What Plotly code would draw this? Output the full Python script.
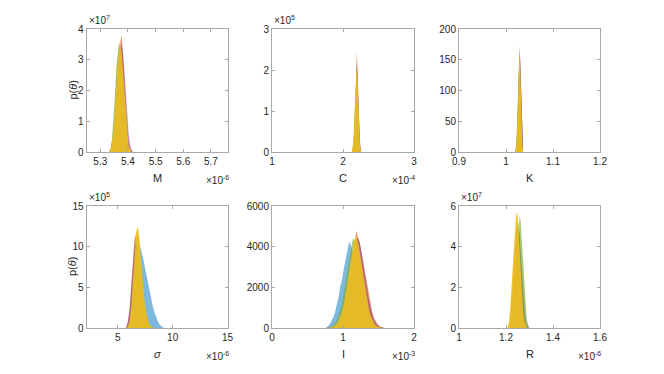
import numpy as np
import plotly.graph_objects as go

# MATLAB-like colour order, drawn with face alpha
COLORS = {
    'blue': (0, 114, 189),
    'orange': (217, 83, 25),
    'purple': (126, 47, 142),
    'green': (119, 172, 48),
    'yellow': (237, 190, 35),
}
ALPHA = {'blue': 0.5, 'orange': 0.6, 'purple': 0.5, 'green': 0.6, 'yellow': 0.92}
SERIES = ['blue', 'orange', 'purple', 'green', 'yellow']

# ---- M  (x in 1e-6, y in 1e7)
M_start, M_width = 5.330, 0.005
M_blue = [0.02, 0.1, 0.35, 0.8, 1.5, 2.3, 3.0, 3.4, 3.3, 2.8, 2.0, 1.2, 0.6, 0.25, 0.08, 0.02, 0, 0]
M_orange = [0, 0.03, 0.15, 0.4, 0.9, 1.6, 2.4, 3.1, 3.6, 3.8, 3.2, 2.3, 1.4, 0.7, 0.3, 0.1, 0.02, 0]
M_purple = [0, 0.02, 0.08, 0.25, 0.6, 1.2, 2.0, 2.8, 3.3, 3.5, 3.2, 2.6, 1.8, 1.1, 0.6, 0.25, 0.08, 0.02]
M_green = [0.03, 0.15, 0.45, 1.0, 1.8, 2.7, 3.3, 3.6, 3.4, 2.7, 1.8, 1.0, 0.45, 0.15, 0.05, 0.01, 0, 0]
M_yellow = [0.02, 0.1, 0.3, 0.7, 1.4, 2.2, 2.9, 3.3, 3.45, 3.2, 2.6, 1.8, 1.1, 0.55, 0.2, 0.06, 0.01, 0]

# ---- C  (x in 1e-4, y in 1e5)
C_start, C_width = 2.12, 0.01
C_blue = [0, 0.05, 0.15, 0.4, 0.8, 1.3, 1.8, 2.1, 1.7, 1.1, 0.6, 0.25, 0.08, 0]
C_orange = [0, 0.03, 0.1, 0.3, 0.7, 1.2, 1.9, 2.45, 2.0, 1.3, 0.7, 0.3, 0.1, 0.02]
C_purple = [0, 0.02, 0.1, 0.3, 0.6, 1.1, 1.7, 2.2, 1.9, 1.3, 0.8, 0.4, 0.15, 0.03]
C_green = [0.02, 0.08, 0.2, 0.5, 0.9, 1.5, 2.0, 2.2, 1.6, 1.0, 0.5, 0.2, 0.05, 0]
C_yellow = [0.03, 0.1, 0.25, 0.55, 0.95, 1.45, 1.9, 2.1, 1.8, 1.2, 0.7, 0.3, 0.1, 0.02]

# ---- K
K_start, K_width = 1.019, 0.0015
K_blue = [0, 5, 18, 45, 85, 130, 160, 140, 95, 50, 18, 4]
K_orange = [0, 3, 12, 35, 75, 125, 175, 150, 105, 60, 22, 6]
K_purple = [0, 2, 10, 30, 70, 120, 155, 155, 115, 65, 25, 6]
K_green = [3, 10, 30, 65, 110, 150, 165, 130, 80, 35, 10, 2]
K_yellow = [2, 8, 25, 60, 105, 145, 160, 135, 85, 40, 12, 3]

# ---- sigma  (x in 1e-6, y in 1e5)
S_start, S_width = 5.7, 0.15
S_blue = [0, 0.1, 0.5, 1.5, 3.5, 6.0, 8.5, 10.0, 10.3, 9.6, 8.8, 7.8, 6.7, 5.6, 4.6, 3.7, 2.8, 2.0, 1.4, 0.9, 0.5, 0.25, 0.1, 0.03]
S_orange = [0.1, 0.6, 2.2, 5.0, 8.5, 11.0, 11.6, 10.2, 7.6, 5.2, 3.2, 1.9, 1.0, 0.5, 0.25, 0.1, 0.03, 0, 0, 0, 0, 0, 0, 0]
S_purple = [0.2, 0.9, 2.4, 5.0, 8.0, 10.2, 10.8, 9.6, 7.4, 5.0, 3.1, 1.8, 0.9, 0.45, 0.2, 0.08, 0, 0, 0, 0, 0, 0, 0, 0]
S_green = [0, 0.2, 0.9, 2.5, 5.2, 8.3, 10.6, 11.2, 9.8, 7.4, 5.0, 3.1, 1.8, 0.9, 0.4, 0.15, 0.05, 0, 0, 0, 0, 0, 0, 0]
S_yellow = [0, 0.15, 0.8, 2.6, 5.6, 9.0, 11.8, 12.5, 11.0, 8.2, 5.6, 3.5, 2.0, 1.0, 0.45, 0.15, 0.05, 0, 0, 0, 0, 0, 0, 0]

# ---- I  (x in 1e-3)
I_start, I_width = 0.75, 0.025
I_blue = [30, 80, 180, 330, 520, 780, 1100, 1520, 2050, 2400, 2950, 3450, 3900, 4250, 4050, 3800, 3350, 2900, 2400, 1900,
          1450, 1050, 720, 470, 290, 170, 95, 50, 25, 10, 5, 0, 0, 0]
I_orange = [0, 0, 5, 15, 35, 70, 130, 230, 380, 590, 870, 1230, 1680, 2200, 2780, 3400, 4000, 4800, 4450, 4150,
            3700, 3200, 2650, 2100, 1600, 1150, 780, 500, 310, 180, 100, 50, 20, 5]
I_purple = [0, 0, 5, 15, 30, 65, 120, 210, 350, 560, 840, 1200, 1650, 2150, 2700, 3250, 3800, 4250, 4450, 4200,
            3700, 3100, 2500, 1900, 1400, 980, 650, 400, 230, 125, 60, 25, 10, 0]
I_green = [0, 10, 30, 70, 140, 250, 400, 620, 900, 1250, 1700, 2250, 2850, 3450, 4000, 4400, 4300, 4000, 3550, 3000,
           2450, 1900, 1400, 980, 650, 410, 240, 130, 65, 30, 12, 5, 0, 0]
I_yellow = [0, 0, 10, 25, 55, 110, 200, 340, 540, 820, 1180, 1650, 2200, 2800, 3400, 3950, 4350, 4500, 4200, 3700,
            3150, 2550, 1950, 1420, 980, 640, 400, 230, 125, 60, 25, 10, 0, 0]

# ---- R  (x in 1e-6, y in 1e7)
R_start, R_width = 1.205, 0.005
R_blue = [0, 0.05, 0.2, 0.6, 1.3, 2.3, 3.4, 4.4, 5.0, 5.15, 4.6, 3.6, 2.5, 1.5, 0.8, 0.35, 0.1, 0.03, 0]
R_orange = [0, 0.1, 0.4, 1.0, 1.9, 3.0, 4.0, 4.7, 5.0, 4.6, 3.7, 2.6, 1.6, 0.8, 0.35, 0.12, 0.03, 0, 0]
R_purple = [0, 0, 0.05, 0.25, 0.7, 1.5, 2.5, 3.5, 4.3, 4.8, 4.7, 4.0, 3.0, 2.0, 1.2, 0.6, 0.25, 0.08, 0.02]
R_green = [0, 0, 0.03, 0.15, 0.4, 1.0, 1.9, 2.9, 3.9, 4.8, 5.5, 5.3, 4.4, 3.2, 2.1, 1.2, 0.6, 0.2, 0.05]
R_yellow = [0.05, 0.3, 0.9, 1.8, 2.9, 4.0, 4.9, 5.5, 5.7, 5.1, 4.0, 2.8, 1.7, 0.9, 0.4, 0.15, 0.05, 0, 0]

panels = [
    dict(name='M', start=M_start, width=M_width,
         data=[M_blue, M_orange, M_purple, M_green, M_yellow],
         xrange=[5.25, 5.76], xticks=[5.3, 5.4, 5.5, 5.6, 5.7], xlabels=['5.3', '5.4', '5.5', '5.6', '5.7'],
         yrange=[0, 4], yticks=[0, 1, 2, 3, 4], xexp='-6', yexp='7', ylabel=True),
    dict(name='C', start=C_start, width=C_width,
         data=[C_blue, C_orange, C_purple, C_green, C_yellow],
         xrange=[1, 3], xticks=[1, 2, 3], xlabels=['1', '2', '3'],
         yrange=[0, 3], yticks=[0, 1, 2, 3], xexp='-4', yexp='5', ylabel=False),
    dict(name='K', start=K_start, width=K_width,
         data=[K_blue, K_orange, K_purple, K_green, K_yellow],
         xrange=[0.9, 1.2], xticks=[0.9, 1.0, 1.1, 1.2], xlabels=['0.9', '1', '1.1', '1.2'],
         yrange=[0, 200], yticks=[0, 50, 100, 150, 200], xexp=None, yexp=None, ylabel=False),
    dict(name='<i>σ</i>', start=S_start, width=S_width,
         data=[S_blue, S_orange, S_purple, S_green, S_yellow],
         xrange=[2.15, 15], xticks=[5, 10, 15], xlabels=['5', '10', '15'],
         yrange=[0, 15], yticks=[0, 5, 10, 15], xexp='-6', yexp='5', ylabel=True),
    dict(name='I', start=I_start, width=I_width,
         data=[I_blue, I_orange, I_purple, I_green, I_yellow],
         xrange=[0, 2], xticks=[0, 1, 2], xlabels=['0', '1', '2'],
         yrange=[0, 6000], yticks=[0, 2000, 4000, 6000], xexp='-3', yexp=None, ylabel=False),
    dict(name='R', start=R_start, width=R_width,
         data=[R_blue, R_orange, R_purple, R_green, R_yellow],
         xrange=[1, 1.6], xticks=[1, 1.2, 1.4, 1.6], xlabels=['1', '1.2', '1.4', '1.6'],
         yrange=[0, 6], yticks=[0, 2, 4, 6], xexp='-6', yexp='7', ylabel=False),
]

# page body has an 8px margin, so the figure is shrunk to fit the window
OFF = 8
W, H = 664 - 2 * OFF, 374 - 2 * OFF


def fx(px):
    return (px - OFF) / W


def fy(py):
    return 1 - (py - OFF) / H


col_dom = [[fx(86.5), fx(227.5)], [fx(272), fx(414)], [fx(459), fx(600)]]
row_dom = [[fy(152), fy(29)], [fy(328), fy(206)]]

TXT = '#262626'
AX = '#a8a8a8'
FONT = 'Liberation Sans, Arial, sans-serif'

fig = go.Figure()
layout = {}
annotations = []

for k, p in enumerate(panels):
    r, c = divmod(k, 3)
    idx = '' if k == 0 else str(k + 1)
    xa, ya = 'x' + idx, 'y' + idx
    for s, vals in zip(SERIES, p['data']):
        x = p['start'] + p['width'] * (np.arange(len(vals)) + 0.5)
        rgb = COLORS[s]
        fig.add_trace(go.Scatter(
            x=x, y=vals, mode='lines', line=dict(width=0, color='rgb(%d,%d,%d)' % rgb),
            fill='tozeroy', fillcolor='rgba(%d,%d,%d,%.2f)' % (rgb + (ALPHA[s],)),
            xaxis=xa, yaxis=ya, showlegend=False, hoverinfo='skip'))

    common = dict(showline=True, linecolor=AX, linewidth=1, mirror='ticks', ticks='inside',
                  ticklen=3, tickcolor=AX, showgrid=False, zeroline=False, automargin=False,
                  tickfont=dict(size=10, color=TXT, family=FONT))
    layout['xaxis' + idx] = dict(common, domain=col_dom[c], range=p['xrange'], anchor=ya,
                                 tickvals=p['xticks'], ticktext=p['xlabels'])
    layout['yaxis' + idx] = dict(common, domain=row_dom[r], range=p['yrange'], anchor=xa,
                                 tickvals=p['yticks'], ticktext=[str(v) for v in p['yticks']])

    x0, x1 = col_dom[c]
    y0, y1 = row_dom[r]
    annotations.append(dict(text=p['name'], x=(x0 + x1) / 2, y=y0 - 26 / H, xref='paper', yref='paper',
                            xanchor='center', yanchor='middle', showarrow=False,
                            font=dict(size=11, color=TXT, family=FONT)))
    if p['xexp']:
        annotations.append(dict(text='×10<sup>%s</sup>' % p['xexp'], x=x1 + 3 / W, y=y0 - 28 / H,
                                xref='paper', yref='paper', xanchor='right', yanchor='middle',
                                showarrow=False, font=dict(size=10, color=TXT, family=FONT)))
    if p['yexp']:
        annotations.append(dict(text='×10<sup>%s</sup>' % p['yexp'], x=x0, y=y1 + 1 / H,
                                xref='paper', yref='paper', xanchor='left', yanchor='bottom',
                                showarrow=False, font=dict(size=10, color=TXT, family=FONT)))
    if p['ylabel']:
        annotations.append(dict(text='p(<i>θ</i>)', x=fx(72), y=(y0 + y1) / 2, xref='paper', yref='paper',
                                xanchor='center', yanchor='middle', textangle=-90, showarrow=False,
                                font=dict(size=11, color=TXT, family=FONT)))

fig.update_layout(**layout)
fig.update_layout(width=W, height=H, margin=dict(l=0, r=0, t=0, b=0),
                  paper_bgcolor='white', plot_bgcolor='white', annotations=annotations)

fig.write_html("out.html")
